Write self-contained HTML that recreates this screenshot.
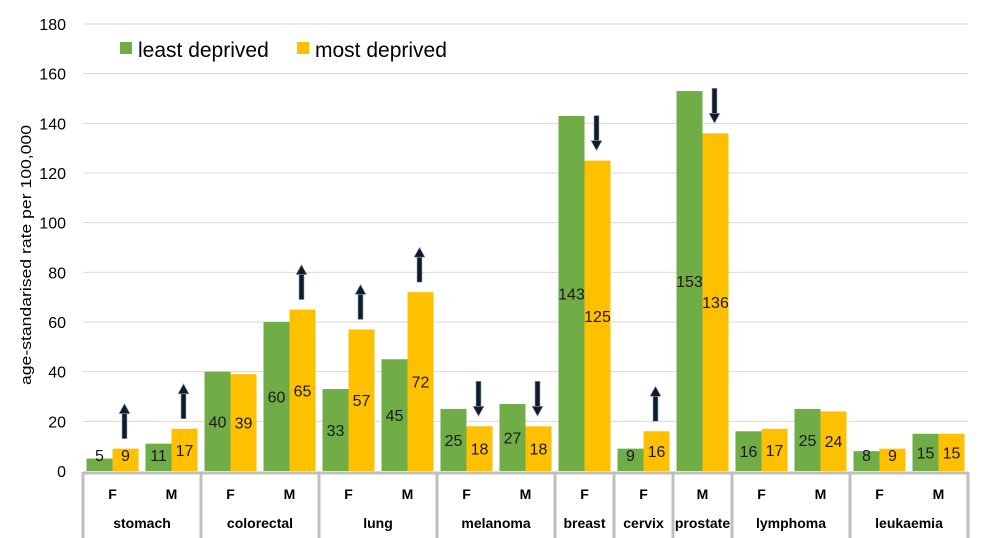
<!DOCTYPE html>
<html><head><meta charset="utf-8"><style>
body{margin:0;background:#fff}
svg{display:block;font-family:"Liberation Sans",sans-serif}
</style></head><body>
<svg id="c" width="988" height="538" viewBox="0 0 988 538"></svg>
<script>
const categories=["stomach","colorectal","lung","melanoma","breast","cervix","prostate","lymphoma","leukaemia"];
const sexes=[["F","M"],["F","M"],["F","M"],["F","M"],["F"],["F"],["M"],["F","M"],["F","M"]];
const leastDeprived=[5,11,40,60,33,45,25,27,143,9,153,16,25,8,15];
const mostDeprived=[9,17,39,65,57,72,18,18,125,16,136,17,24,9,15];
const arrows=["up","up","","up","up","up","down","down","down","up","down","","","",""];
const yTicks=[0,20,40,60,80,100,120,140,160,180];
const NS="http://www.w3.org/2000/svg";
const svg=document.getElementById('c');
const X0=83,SLOT=59,BW=26,Y0=471,YT=24,YMAX=180;
const y=v=>Y0-(v/YMAX)*(Y0-YT);
const xs=i=>X0+i*SLOT+SLOT/2;
function el(t,a,p){const e=document.createElementNS(NS,t);for(const k in a)e.setAttribute(k,a[k]);(p||svg).appendChild(e);return e;}
yTicks.forEach(t=>{
  if(t>0){const g=el('line',{x1:X0,x2:968,y1:y(t),y2:y(t),stroke:'#d9d9d9','stroke-width':1});
  
  }
  const tx=el('text',{x:66,y:y(t)+6,'text-anchor':'end','font-size':16,fill:'#000'});
  tx.textContent=t;
  
  
});
const yt=el('text',{x:0,y:0,transform:'translate(31,255) rotate(-90)','text-anchor':'middle','font-size':14.5,fill:'#000',textLength:260,lengthAdjust:'spacingAndGlyphs'});
yt.textContent='age-standarised rate per 100,000';


leastDeprived.forEach((v,i)=>{
  const c=xs(i);
  [[v,'#70AD47',c-BW,'least'],[mostDeprived[i],'#FFC000',c,'most']].forEach(([val,col,x,nm])=>{
    const r=el('rect',{x:x,y:y(val),width:BW,height:Y0-y(val),fill:col});
    
    
    const ly=Math.min((y(val)+Y0)/2,455)+6;
    const t=el('text',{x:x+BW/2,y:ly,'text-anchor':'middle','font-size':16,fill:'#1a1a1a'});
    t.textContent=val;
    
    
  });
  const a=arrows[i];
  if(a){
    const ax=c+12,bot=y(mostDeprived[i])-10,top=bot-35;
    const g=el('g',{fill:'#0d1b2e',stroke:'#9aa4b0','stroke-width':0.6});
    
    
    if(a==='up'){
      el('rect',{x:ax-2.5,y:top+9,width:5,height:26},g);
      el('polygon',{points:`${ax-5.5},${top+10} ${ax+5.5},${top+10} ${ax},${top}`},g);
    }else{
      el('rect',{x:ax-2.5,y:top,width:5,height:26},g);
      el('polygon',{points:`${ax-5.5},${bot-10} ${ax+5.5},${bot-10} ${ax},${bot}`},g);
    }
  }
});
const ax=el('line',{x1:X0,x2:968,y1:473,y2:473,stroke:'#bfbfbf','stroke-width':3});


let s=0;
const divs=[s];
categories.forEach((cat,ci)=>{
  const n=sexes[ci].length;
  sexes[ci].forEach((sx,k)=>{
    const t=el('text',{x:xs(s+k),y:499,'text-anchor':'middle','font-size':14,'font-weight':'bold',fill:'#000'});
    t.textContent=sx;
    
    
  });
  const ct=el('text',{x:X0+(s+n/2)*SLOT,y:528,'text-anchor':'middle','font-size':14,'font-weight':'bold',fill:'#000'});
  ct.textContent=cat;
  
  
  s+=n;divs.push(s);
});
divs.forEach(d=>{
  const l=el('line',{x1:X0+d*SLOT,x2:X0+d*SLOT,y1:472,y2:538,stroke:'#bfbfbf','stroke-width':3});
  
  
});
[['#70AD47','least deprived',120],['#FFC000','most deprived',297]].forEach(([c,txt,x])=>{
  const g=el('g',{});
  
  
  el('rect',{x:x,y:42,width:12,height:12,fill:c},g);
  const t=el('text',{x:x+18,y:57,'font-size':21,fill:'#000'},g);
  t.textContent=txt;
});
</script>
</body></html>
